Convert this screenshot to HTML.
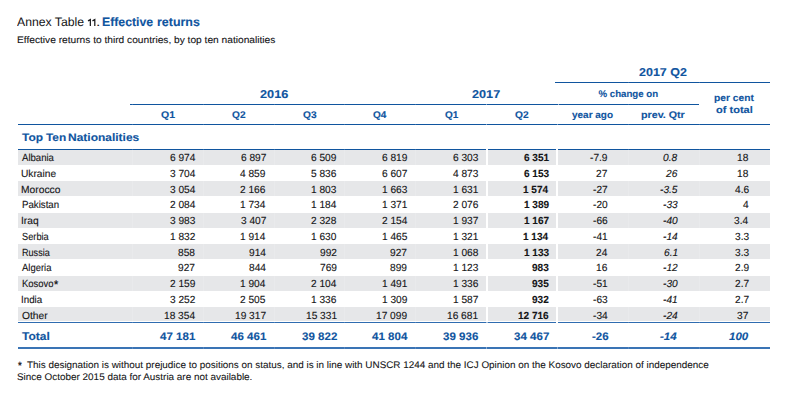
<!DOCTYPE html>
<html><head><meta charset="utf-8"><title>Annex Table 11</title>
<style>
html,body{margin:0;padding:0;background:#fff;}
body{width:807px;height:413px;position:relative;overflow:hidden;font-family:"Liberation Sans",sans-serif;color:#141416;text-rendering:geometricPrecision;}
.t{-webkit-text-stroke:0.12px;position:absolute;white-space:nowrap;line-height:1;transform-origin:0 0;}
.ln{position:absolute;background:#10559f;}
.sh{position:absolute;background:#e6e7e9;}
.b{font-weight:bold;color:#10559f;}
.k{font-weight:bold;}
.i{font-style:italic;}
.gap{position:absolute;background:#fff;}
</style></head><body>

<div class="t" style="-webkit-text-stroke:0.00px;left:17.37px;top:16.00px;font-size:12.20px;transform:scaleX(1.0035)">Annex Table</div>
<svg style="position:absolute;left:80px;top:10px" width="30" height="20" viewBox="80 10 30 20"><path d="M88.0 20.9 L90.35 19.6 L90.35 26 M92.45 20.9 L94.8 19.6 L94.8 26" fill="none" stroke="#1d1d1f" stroke-width="1.25"/></svg>
<div class="t" style="-webkit-text-stroke:0.00px;left:95.54px;top:16.00px;font-size:12.20px;transform:scaleX(1.2942)">.</div>
<div class="t b" style="left:102.47px;top:16.00px;font-size:12.20px;transform:scaleX(1.0076)">Effective</div>
<div class="t b" style="left:156.69px;top:16.00px;font-size:12.20px;transform:scaleX(1.0209)">returns</div>
<div class="t" style="-webkit-text-stroke:0.10px;left:16.86px;top:36.00px;font-size:9.60px;transform:scaleX(1.0607)">Effective returns to third countries, by top ten nationalities</div>
<div class="t b" style="left:260.05px;top:90.00px;font-size:11.30px;transform:scaleX(1.1265)">2016</div>
<div class="t b" style="left:472.36px;top:90.00px;font-size:11.30px;transform:scaleX(1.1222)">2017</div>
<div class="t b" style="left:639.46px;top:68.00px;font-size:11.30px;transform:scaleX(1.1062)">2017 Q2</div>
<div class="t b" style="left:598.46px;top:90.00px;font-size:9.70px;transform:scaleX(1.0000)">% change on</div>
<div class="t b" style="left:160.98px;top:111.00px;font-size:9.70px;transform:scaleX(1.0839)">Q1</div>
<div class="t b" style="left:231.99px;top:111.00px;font-size:9.70px;transform:scaleX(1.0453)">Q2</div>
<div class="t b" style="left:302.59px;top:111.00px;font-size:9.70px;transform:scaleX(1.0494)">Q3</div>
<div class="t b" style="left:373.30px;top:111.00px;font-size:9.70px;transform:scaleX(1.0329)">Q4</div>
<div class="t b" style="left:444.50px;top:111.00px;font-size:9.70px;transform:scaleX(1.0350)">Q1</div>
<div class="t b" style="left:514.89px;top:111.00px;font-size:9.70px;transform:scaleX(1.0536)">Q2</div>
<div class="t b" style="left:572.23px;top:111.00px;font-size:9.70px;transform:scaleX(1.0290)">year ago</div>
<div class="t b" style="left:641.20px;top:111.00px;font-size:9.70px;transform:scaleX(1.1041)">prev. Qtr</div>
<div class="t b" style="left:714.13px;top:94.00px;font-size:9.70px;transform:scaleX(1.0573)">per cent</div>
<div class="t b" style="left:716.06px;top:106.00px;font-size:9.70px;transform:scaleX(1.1389)">of total</div>
<div class="t b" style="left:21.95px;top:133.00px;font-size:10.90px;transform:scaleX(1.0977)">Top</div>
<div class="t b" style="left:45.65px;top:133.00px;font-size:10.90px;transform:scaleX(1.0863)">Ten</div>
<div class="t b" style="left:67.99px;top:133.00px;font-size:10.90px;transform:scaleX(1.1001)">Nationalities</div>
<div class="ln" style="left:555.3px;width:214.6px;top:81.90px;height:1.20px"></div>
<div class="ln" style="left:130.3px;width:568.3px;top:103.80px;height:1.20px"></div>
<div class="ln" style="left:17.9px;width:752.0px;top:123.55px;height:1.15px"></div>
<div class="ln" style="left:17.9px;width:752.0px;top:148.90px;height:1.20px"></div>
<div class="sh" style="left:17.9px;width:752.0px;top:150.00px;height:14.90px"></div>
<div class="t" style="left:21.98px;top:154.00px;font-size:10.30px;transform:scaleX(0.9294)">Albania</div>
<div class="t" style="left:169.59px;top:154.00px;font-size:10.30px;transform:scaleX(0.9850)">6 974</div>
<div class="t" style="left:240.52px;top:154.00px;font-size:10.30px;transform:scaleX(0.9850)">6 897</div>
<div class="t" style="left:311.17px;top:154.00px;font-size:10.30px;transform:scaleX(0.9850)">6 509</div>
<div class="t" style="left:381.87px;top:154.00px;font-size:10.30px;transform:scaleX(0.9850)">6 819</div>
<div class="t" style="left:452.64px;top:154.00px;font-size:10.30px;transform:scaleX(0.9850)">6 303</div>
<div class="t k" style="left:523.64px;top:154.00px;font-size:10.30px;transform:scaleX(0.9750)">6 351</div>
<div class="t" style="left:589.88px;top:154.00px;font-size:10.30px;transform:scaleX(0.9850)">-7.9</div>
<div class="t i" style="left:663.25px;top:154.00px;font-size:10.30px;transform:scaleX(0.9850)">0.8</div>
<div class="t" style="left:737.37px;top:154.00px;font-size:10.30px;transform:scaleX(0.9850)">18</div>
<div class="t" style="left:21.11px;top:170.00px;font-size:10.30px;transform:scaleX(0.9899)">Ukraine</div>
<div class="t" style="left:169.59px;top:170.00px;font-size:10.30px;transform:scaleX(0.9850)">3 704</div>
<div class="t" style="left:240.47px;top:170.00px;font-size:10.30px;transform:scaleX(0.9850)">4 859</div>
<div class="t" style="left:311.14px;top:170.00px;font-size:10.30px;transform:scaleX(0.9850)">5 836</div>
<div class="t" style="left:381.92px;top:170.00px;font-size:10.30px;transform:scaleX(0.9850)">6 607</div>
<div class="t" style="left:452.64px;top:170.00px;font-size:10.30px;transform:scaleX(0.9850)">4 873</div>
<div class="t k" style="left:523.72px;top:170.00px;font-size:10.30px;transform:scaleX(0.9750)">6 153</div>
<div class="t" style="left:596.15px;top:170.00px;font-size:10.30px;transform:scaleX(0.9850)">27</div>
<div class="t i" style="left:666.04px;top:170.00px;font-size:10.30px;transform:scaleX(0.9850)">26</div>
<div class="t" style="left:737.37px;top:170.00px;font-size:10.30px;transform:scaleX(0.9850)">18</div>
<div class="sh" style="left:17.9px;width:752.0px;top:181.43px;height:14.90px"></div>
<div class="t" style="left:21.35px;top:186.00px;font-size:10.30px;transform:scaleX(0.9970)">Morocco</div>
<div class="t" style="left:169.59px;top:186.00px;font-size:10.30px;transform:scaleX(0.9850)">3 054</div>
<div class="t" style="left:240.44px;top:186.00px;font-size:10.30px;transform:scaleX(0.9850)">2 166</div>
<div class="t" style="left:311.14px;top:186.00px;font-size:10.30px;transform:scaleX(0.9850)">1 803</div>
<div class="t" style="left:381.84px;top:186.00px;font-size:10.30px;transform:scaleX(0.9850)">1 663</div>
<div class="t" style="left:452.69px;top:186.00px;font-size:10.30px;transform:scaleX(0.9850)">1 631</div>
<div class="t k" style="left:523.42px;top:186.00px;font-size:10.30px;transform:scaleX(0.9750)">1 574</div>
<div class="t" style="left:592.75px;top:186.00px;font-size:10.30px;transform:scaleX(0.9850)">-27</div>
<div class="t i" style="left:659.80px;top:186.00px;font-size:10.30px;transform:scaleX(0.9850)">-3.5</div>
<div class="t" style="left:734.53px;top:186.00px;font-size:10.30px;transform:scaleX(0.9850)">4.6</div>
<div class="t" style="left:21.50px;top:201.00px;font-size:10.30px;transform:scaleX(0.9399)">Pakistan</div>
<div class="t" style="left:169.59px;top:201.00px;font-size:10.30px;transform:scaleX(0.9850)">2 084</div>
<div class="t" style="left:240.29px;top:201.00px;font-size:10.30px;transform:scaleX(0.9850)">1 734</div>
<div class="t" style="left:310.99px;top:201.00px;font-size:10.30px;transform:scaleX(0.9850)">1 184</div>
<div class="t" style="left:381.89px;top:201.00px;font-size:10.30px;transform:scaleX(0.9850)">1 371</div>
<div class="t" style="left:452.64px;top:201.00px;font-size:10.30px;transform:scaleX(0.9850)">2 076</div>
<div class="t k" style="left:523.72px;top:201.00px;font-size:10.30px;transform:scaleX(0.9750)">1 389</div>
<div class="t" style="left:592.62px;top:201.00px;font-size:10.30px;transform:scaleX(0.9850)">-20</div>
<div class="t i" style="left:662.72px;top:201.00px;font-size:10.30px;transform:scaleX(0.9850)">-33</div>
<div class="t" style="left:742.85px;top:201.00px;font-size:10.30px;transform:scaleX(0.9850)">4</div>
<div class="sh" style="left:17.9px;width:752.0px;top:212.86px;height:14.90px"></div>
<div class="t" style="left:21.35px;top:217.00px;font-size:10.30px;transform:scaleX(0.9972)">Iraq</div>
<div class="t" style="left:169.74px;top:217.00px;font-size:10.30px;transform:scaleX(0.9850)">3 983</div>
<div class="t" style="left:240.52px;top:217.00px;font-size:10.30px;transform:scaleX(0.9850)">3 407</div>
<div class="t" style="left:311.14px;top:217.00px;font-size:10.30px;transform:scaleX(0.9850)">2 328</div>
<div class="t" style="left:381.69px;top:217.00px;font-size:10.30px;transform:scaleX(0.9850)">2 154</div>
<div class="t" style="left:452.72px;top:217.00px;font-size:10.30px;transform:scaleX(0.9850)">1 937</div>
<div class="t k" style="left:523.80px;top:217.00px;font-size:10.30px;transform:scaleX(0.9750)">1 167</div>
<div class="t" style="left:592.67px;top:217.00px;font-size:10.30px;transform:scaleX(0.9850)">-66</div>
<div class="t i" style="left:662.72px;top:217.00px;font-size:10.30px;transform:scaleX(0.9850)">-40</div>
<div class="t" style="left:734.38px;top:217.00px;font-size:10.30px;transform:scaleX(0.9850)">3.4</div>
<div class="t" style="left:21.58px;top:233.00px;font-size:10.30px;transform:scaleX(0.8975)">Serbia</div>
<div class="t" style="left:169.82px;top:233.00px;font-size:10.30px;transform:scaleX(0.9850)">1 832</div>
<div class="t" style="left:240.29px;top:233.00px;font-size:10.30px;transform:scaleX(0.9850)">1 914</div>
<div class="t" style="left:311.09px;top:233.00px;font-size:10.30px;transform:scaleX(0.9850)">1 630</div>
<div class="t" style="left:381.82px;top:233.00px;font-size:10.30px;transform:scaleX(0.9850)">1 465</div>
<div class="t" style="left:452.69px;top:233.00px;font-size:10.30px;transform:scaleX(0.9850)">1 321</div>
<div class="t k" style="left:523.42px;top:233.00px;font-size:10.30px;transform:scaleX(0.9750)">1 134</div>
<div class="t" style="left:592.72px;top:233.00px;font-size:10.30px;transform:scaleX(0.9850)">-41</div>
<div class="t i" style="left:663.02px;top:233.00px;font-size:10.30px;transform:scaleX(0.9850)">-14</div>
<div class="t" style="left:734.53px;top:233.00px;font-size:10.30px;transform:scaleX(0.9850)">3.3</div>
<div class="sh" style="left:17.9px;width:752.0px;top:244.29px;height:14.90px"></div>
<div class="t" style="left:21.55px;top:249.00px;font-size:10.30px;transform:scaleX(0.8819)">Russia</div>
<div class="t" style="left:178.21px;top:249.00px;font-size:10.30px;transform:scaleX(0.9850)">858</div>
<div class="t" style="left:248.76px;top:249.00px;font-size:10.30px;transform:scaleX(0.9850)">914</div>
<div class="t" style="left:319.69px;top:249.00px;font-size:10.30px;transform:scaleX(0.9850)">992</div>
<div class="t" style="left:390.39px;top:249.00px;font-size:10.30px;transform:scaleX(0.9850)">927</div>
<div class="t" style="left:452.64px;top:249.00px;font-size:10.30px;transform:scaleX(0.9850)">1 068</div>
<div class="t k" style="left:523.72px;top:249.00px;font-size:10.30px;transform:scaleX(0.9750)">1 133</div>
<div class="t" style="left:595.92px;top:249.00px;font-size:10.30px;transform:scaleX(0.9850)">24</div>
<div class="t i" style="left:664.03px;top:249.00px;font-size:10.30px;transform:scaleX(0.9850)">6.1</div>
<div class="t" style="left:734.53px;top:249.00px;font-size:10.30px;transform:scaleX(0.9850)">3.3</div>
<div class="t" style="left:22.08px;top:264.00px;font-size:10.30px;transform:scaleX(0.9178)">Algeria</div>
<div class="t" style="left:178.29px;top:264.00px;font-size:10.30px;transform:scaleX(0.9850)">927</div>
<div class="t" style="left:248.76px;top:264.00px;font-size:10.30px;transform:scaleX(0.9850)">844</div>
<div class="t" style="left:319.64px;top:264.00px;font-size:10.30px;transform:scaleX(0.9850)">769</div>
<div class="t" style="left:390.34px;top:264.00px;font-size:10.30px;transform:scaleX(0.9850)">899</div>
<div class="t" style="left:452.64px;top:264.00px;font-size:10.30px;transform:scaleX(0.9850)">1 123</div>
<div class="t k" style="left:532.11px;top:264.00px;font-size:10.30px;transform:scaleX(0.9750)">983</div>
<div class="t" style="left:596.07px;top:264.00px;font-size:10.30px;transform:scaleX(0.9850)">16</div>
<div class="t i" style="left:662.77px;top:264.00px;font-size:10.30px;transform:scaleX(0.9850)">-12</div>
<div class="t" style="left:734.55px;top:264.00px;font-size:10.30px;transform:scaleX(0.9850)">2.9</div>
<div class="sh" style="left:17.9px;width:752.0px;top:275.72px;height:14.90px"></div>
<div class="t" style="left:21.52px;top:280.00px;font-size:10.30px;transform:scaleX(0.9203)">Kosovo</div>
<div class="t" style="-webkit-text-stroke:0.30px;left:54.01px;top:280.00px;font-size:11.00px;transform:scaleX(0.9731)">*</div>
<div class="t" style="left:169.77px;top:280.00px;font-size:10.30px;transform:scaleX(0.9850)">2 159</div>
<div class="t" style="left:240.29px;top:280.00px;font-size:10.30px;transform:scaleX(0.9850)">1 904</div>
<div class="t" style="left:310.99px;top:280.00px;font-size:10.30px;transform:scaleX(0.9850)">2 104</div>
<div class="t" style="left:381.89px;top:280.00px;font-size:10.30px;transform:scaleX(0.9850)">1 491</div>
<div class="t" style="left:452.64px;top:280.00px;font-size:10.30px;transform:scaleX(0.9850)">1 336</div>
<div class="t k" style="left:532.03px;top:280.00px;font-size:10.30px;transform:scaleX(0.9750)">935</div>
<div class="t" style="left:592.72px;top:280.00px;font-size:10.30px;transform:scaleX(0.9850)">-51</div>
<div class="t i" style="left:662.72px;top:280.00px;font-size:10.30px;transform:scaleX(0.9850)">-30</div>
<div class="t" style="left:734.61px;top:280.00px;font-size:10.30px;transform:scaleX(0.9850)">2.7</div>
<div class="t" style="left:21.40px;top:296.00px;font-size:10.30px;transform:scaleX(0.9498)">India</div>
<div class="t" style="left:169.82px;top:296.00px;font-size:10.30px;transform:scaleX(0.9850)">3 252</div>
<div class="t" style="left:240.42px;top:296.00px;font-size:10.30px;transform:scaleX(0.9850)">2 505</div>
<div class="t" style="left:311.14px;top:296.00px;font-size:10.30px;transform:scaleX(0.9850)">1 336</div>
<div class="t" style="left:381.87px;top:296.00px;font-size:10.30px;transform:scaleX(0.9850)">1 309</div>
<div class="t" style="left:452.72px;top:296.00px;font-size:10.30px;transform:scaleX(0.9850)">1 587</div>
<div class="t k" style="left:532.16px;top:296.00px;font-size:10.30px;transform:scaleX(0.9750)">932</div>
<div class="t" style="left:592.67px;top:296.00px;font-size:10.30px;transform:scaleX(0.9850)">-63</div>
<div class="t i" style="left:663.48px;top:296.00px;font-size:10.30px;transform:scaleX(0.9850)">-41</div>
<div class="t" style="left:734.61px;top:296.00px;font-size:10.30px;transform:scaleX(0.9850)">2.7</div>
<div class="sh" style="left:17.9px;width:752.0px;top:307.15px;height:14.20px"></div>
<div class="t" style="left:21.71px;top:312.00px;font-size:10.30px;transform:scaleX(0.9958)">Other</div>
<div class="t" style="left:163.96px;top:312.00px;font-size:10.30px;transform:scaleX(0.9850)">18 354</div>
<div class="t" style="left:234.89px;top:312.00px;font-size:10.30px;transform:scaleX(0.9850)">19 317</div>
<div class="t" style="left:305.56px;top:312.00px;font-size:10.30px;transform:scaleX(0.9850)">15 331</div>
<div class="t" style="left:376.24px;top:312.00px;font-size:10.30px;transform:scaleX(0.9850)">17 099</div>
<div class="t" style="left:447.06px;top:312.00px;font-size:10.30px;transform:scaleX(0.9850)">16 681</div>
<div class="t k" style="left:518.15px;top:312.00px;font-size:10.30px;transform:scaleX(0.9750)">12 716</div>
<div class="t" style="left:592.52px;top:312.00px;font-size:10.30px;transform:scaleX(0.9850)">-34</div>
<div class="t i" style="left:663.02px;top:312.00px;font-size:10.30px;transform:scaleX(0.9850)">-24</div>
<div class="t" style="left:737.45px;top:312.00px;font-size:10.30px;transform:scaleX(0.9850)">37</div>
<div class="ln" style="left:17.9px;width:752.0px;top:322.00px;height:1.40px;background:#2f6cb0"></div>
<div class="ln" style="left:17.9px;width:752.0px;top:347.20px;height:1.50px;background:#3a74b5"></div>
<div class="t b" style="left:22.25px;top:332.00px;font-size:11.30px;transform:scaleX(1.0623)">Total</div>
<div class="t b" style="left:159.59px;top:332.00px;font-size:10.90px;transform:scaleX(1.0600)">47 181</div>
<div class="t b" style="left:230.79px;top:332.00px;font-size:10.90px;transform:scaleX(1.0600)">46 461</div>
<div class="t b" style="left:301.54px;top:332.00px;font-size:10.90px;transform:scaleX(1.0600)">39 822</div>
<div class="t b" style="left:371.83px;top:332.00px;font-size:10.90px;transform:scaleX(1.0600)">41 804</div>
<div class="t b" style="left:442.78px;top:332.00px;font-size:10.90px;transform:scaleX(1.0600)">39 936</div>
<div class="t b" style="left:513.76px;top:332.00px;font-size:10.90px;transform:scaleX(1.0600)">34 467</div>
<div class="t b" style="left:591.51px;top:332.00px;font-size:10.90px;transform:scaleX(1.0600)">-26</div>
<div class="t b i" style="left:660.48px;top:332.00px;font-size:10.90px;transform:scaleX(1.0600)">-14</div>
<div class="t b i" style="left:729.22px;top:332.00px;font-size:10.90px;transform:scaleX(1.0600)">100</div>
<div class="gap" style="left:556px;width:2.4px;top:147px;height:177px"></div>
<div class="gap" style="left:557.6px;width:1.1px;top:102px;height:4px;opacity:.6"></div>
<div class="gap" style="left:556.6px;width:1px;top:122px;height:4px;opacity:.45"></div>
<div class="gap" style="left:485.5px;width:2.05px;top:148px;height:173.5px"></div>
<div class="gap" style="left:485.6px;width:2px;top:321.5px;height:3px;opacity:.55"></div>
<div class="gap" style="left:486px;width:1px;top:100px;height:48px;opacity:.45"></div>
<div class="gap" style="left:486.3px;width:1px;top:346px;height:3px;opacity:.4"></div>
<div class="gap" style="left:556.8px;width:1px;top:346px;height:3px;opacity:.4"></div>
<div class="gap" style="left:131.9px;width:1px;top:102px;height:248px;opacity:.14"></div>
<div class="gap" style="left:202.8px;width:1px;top:102px;height:248px;opacity:.14"></div>
<div class="gap" style="left:273.6px;width:1px;top:102px;height:248px;opacity:.14"></div>
<div class="gap" style="left:344.4px;width:1px;top:102px;height:248px;opacity:.14"></div>
<div class="gap" style="left:415.3px;width:1px;top:102px;height:248px;opacity:.14"></div>
<div class="gap" style="left:627.8px;width:1px;top:80px;height:270px;opacity:.14"></div>
<div class="gap" style="left:698.7px;width:1px;top:80px;height:270px;opacity:.14"></div>
<div class="t" style="-webkit-text-stroke:0.25px;left:18.03px;top:361.00px;font-size:10.50px;transform:scaleX(0.9121)">*</div>
<div class="t" style="-webkit-text-stroke:0.08px;left:26.98px;top:361.00px;font-size:9.60px;transform:scaleX(1.0316)">This designation is without prejudice to positions on status, and is in line with UNSCR 1244 and the ICJ Opinion on the Kosovo declaration of independence</div>
<div class="t" style="-webkit-text-stroke:0.08px;left:17.15px;top:373.00px;font-size:9.60px;transform:scaleX(1.0336)">Since October 2015 data for Austria are not available.</div>
</body></html>
